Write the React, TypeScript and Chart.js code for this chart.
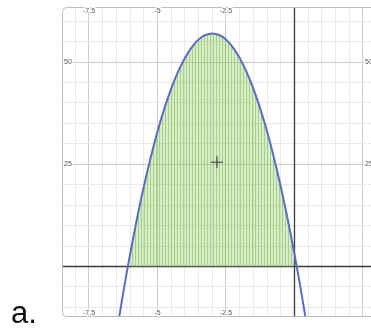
import React, { useEffect, useRef } from "react";
import { Chart, registerables } from "chart.js";

Chart.register(...registerables);

// Curve samples
const curveX = [-6.5, -6.25, -6, -5.75, -5.5, -5.25, -5, -4.75, -4.5, -4.25, -4, -3.75, -3.5, -3.25, -3, -2.75, -2.5, -2.25, -2, -1.75, -1.5, -1.25, -1, -0.75, -0.5, -0.25, 0, 0.25, 0.5];
const curveY = [-16.5, -6.4, 3, 11.6, 19.5, 26.6, 33, 38.6, 43.5, 47.6, 51, 53.6, 55.5, 56.6, 57, 56.6, 55.5, 53.6, 51, 47.6, 43.5, 38.6, 33, 26.6, 19.5, 11.6, 3, -6.4, -16.5];
// Shaded interval
const shadeFrom = -6;
const shadeTo = 0;
// Crosshair marker
const markerX = [-2.83];
const markerY = [25.5];
// Tick labels
const xLabelValues = [-7.5, -5, -2.5];
const xLabels = ["-7.5", "-5", "-2.5"];
const yLabelValues = [25, 50];
const yLabels = ["25", "50"];
// View window
const xMin = -8.485;
const xMax = 2.792;
const yMin = -12.35;
const yMax = 63.45;
const xMinorStep = 0.5;
const xMajorStep = 2.5;
const yMinorStep = 5;
const yMajorStep = 25;

function makeTicks(min: number, max: number, step: number) {
  const out: { value: number }[] = [];
  const start = Math.ceil(min / step);
  const end = Math.floor(max / step);
  for (let i = start; i <= end; i++) out.push({ value: +(i * step).toFixed(4) });
  return out;
}

function isMultiple(v: number, step: number) {
  const r = Math.abs(v / step - Math.round(v / step));
  return r < 1e-6;
}

export default function App() {
  const ref = useRef<HTMLCanvasElement | null>(null);

  useEffect(() => {
    const canvas = ref.current;
    if (!canvas) return;

    const pc = document.createElement("canvas");
    pc.width = 3;
    pc.height = 1;
    const pctx = pc.getContext("2d")!;
    pctx.fillStyle = "rgba(150,205,110,0.38)";
    pctx.fillRect(0, 0, 3, 1);
    pctx.fillStyle = "rgba(120,190,80,0.55)";
    pctx.fillRect(0, 0, 1, 1);
    const pattern = canvas.getContext("2d")!.createPattern(pc, "repeat");

    const curve = curveX.map((x, i) => ({ x, y: curveY[i] }));
    const shade = curve.filter((p) => p.x >= shadeFrom && p.x <= shadeTo);
    const marker = markerX.map((x, i) => ({ x, y: markerY[i] }));

    const axesPlugin = {
      id: "axes",
      beforeDatasetsDraw(chart: any) {
        const { ctx, chartArea } = chart;
        const xs = chart.scales.x;
        const ys = chart.scales.y;
        const x0 = Math.round(xs.getPixelForValue(0)) + 0.5;
        const y0 = Math.round(ys.getPixelForValue(0)) + 0.5;
        ctx.save();
        ctx.strokeStyle = "#3a3a3a";
        ctx.lineWidth = 1.3;
        ctx.beginPath();
        ctx.moveTo(x0, chartArea.top);
        ctx.lineTo(x0, chartArea.bottom);
        ctx.moveTo(chartArea.left, y0);
        ctx.lineTo(chartArea.right, y0);
        ctx.stroke();
        ctx.restore();
      },
    };

    const framePlugin = {
      id: "frame",
      afterDraw(chart: any) {
        const { ctx, chartArea } = chart;
        const xs = chart.scales.x;
        const ys = chart.scales.y;
        const l = chartArea.left + 0.5;
        const t = chartArea.top + 0.5;
        const b = chartArea.bottom - 0.5;
        const r = chartArea.right + 2;
        const rad = 4;
        ctx.save();
        ctx.strokeStyle = "#bdbdbd";
        ctx.lineWidth = 1;
        ctx.beginPath();
        ctx.moveTo(r, t);
        ctx.lineTo(l + rad, t);
        ctx.arcTo(l, t, l, t + rad, rad);
        ctx.lineTo(l, b - rad);
        ctx.arcTo(l, b, l + rad, b, rad);
        ctx.lineTo(r, b);
        ctx.stroke();

        ctx.font = "7px 'Liberation Sans', Arial, sans-serif";
        ctx.fillStyle = "#555";
        ctx.strokeStyle = "rgba(255,255,255,0.9)";
        ctx.lineWidth = 2.5;
        ctx.lineJoin = "round";
        ctx.textBaseline = "middle";
        ctx.textAlign = "center";
        xLabelValues.forEach((v, i) => {
          const px = xs.getPixelForValue(v);
          ctx.strokeText(xLabels[i], px, chartArea.top + 4);
          ctx.fillText(xLabels[i], px, chartArea.top + 4);
          ctx.strokeText(xLabels[i], px, chartArea.bottom - 4);
          ctx.fillText(xLabels[i], px, chartArea.bottom - 4);
        });
        yLabelValues.forEach((v, i) => {
          const py = ys.getPixelForValue(v);
          ctx.textAlign = "left";
          ctx.strokeText(yLabels[i], chartArea.left + 2, py);
          ctx.fillText(yLabels[i], chartArea.left + 2, py);
          ctx.strokeText(yLabels[i], xs.getPixelForValue(xMajorStep) + 2, py);
          ctx.fillText(yLabels[i], xs.getPixelForValue(xMajorStep) + 2, py);
        });
        ctx.restore();
      },
    };

    const gridColor = (step: number) => (c: any) => {
      const v = c.tick ? c.tick.value : 1;
      return isMultiple(v, step) ? "#cccccc" : "#e9e9e9";
    };

    const chart = new Chart(canvas, {
      type: "scatter",
      data: {
        datasets: [
          {
            data: shade,
            showLine: true,
            borderWidth: 0,
            borderColor: "rgba(0,0,0,0)",
            backgroundColor: pattern as any,
            fill: "origin",
            pointRadius: 0,
            tension: 0.3,
            order: 3,
          } as any,
          {
            data: curve,
            showLine: true,
            borderColor: "#5b6cc4",
            borderWidth: 2,
            pointRadius: 0,
            fill: false,
            tension: 0.3,
            order: 2,
          } as any,
          {
            data: marker,
            showLine: false,
            pointStyle: "cross",
            pointRadius: 6,
            borderColor: "#333",
            borderWidth: 1,
            order: 1,
          } as any,
        ],
      },
      options: {
        animation: false,
        responsive: false,
        layout: { autoPadding: false, padding: { left: 62, top: 7, right: 0, bottom: 15 } },
        plugins: { legend: { display: false }, tooltip: { enabled: false } },
        scales: {
          x: {
            type: "linear",
            min: xMin,
            max: xMax,
            afterBuildTicks: (s: any) => {
              s.ticks = makeTicks(xMin, xMax, xMinorStep);
            },
            ticks: { display: false },
            border: { display: false },
            grid: { drawTicks: false, color: gridColor(xMajorStep) },
          },
          y: {
            type: "linear",
            min: yMin,
            max: yMax,
            afterBuildTicks: (s: any) => {
              s.ticks = makeTicks(yMin, yMax, yMinorStep);
            },
            ticks: { display: false },
            border: { display: false },
            grid: { drawTicks: false, color: gridColor(yMajorStep) },
          },
        },
      },
      plugins: [axesPlugin, framePlugin],
    });

    return () => chart.destroy();
  }, []);

  return (
    <div style={{ position: "fixed", left: 0, top: 0, width: 371, height: 332, overflow: "hidden", background: "#fff" }}>
      <canvas ref={ref} width={371} height={332} style={{ position: "absolute", left: 0, top: 0, width: 371, height: 332 }} />
      <div
        style={{
          position: "absolute",
          left: 11,
          top: 297,
          font: "31px 'Liberation Sans', Arial, sans-serif",
          lineHeight: "31px",
          color: "#111",
        }}
      >
        a.
      </div>
    </div>
  );
}
